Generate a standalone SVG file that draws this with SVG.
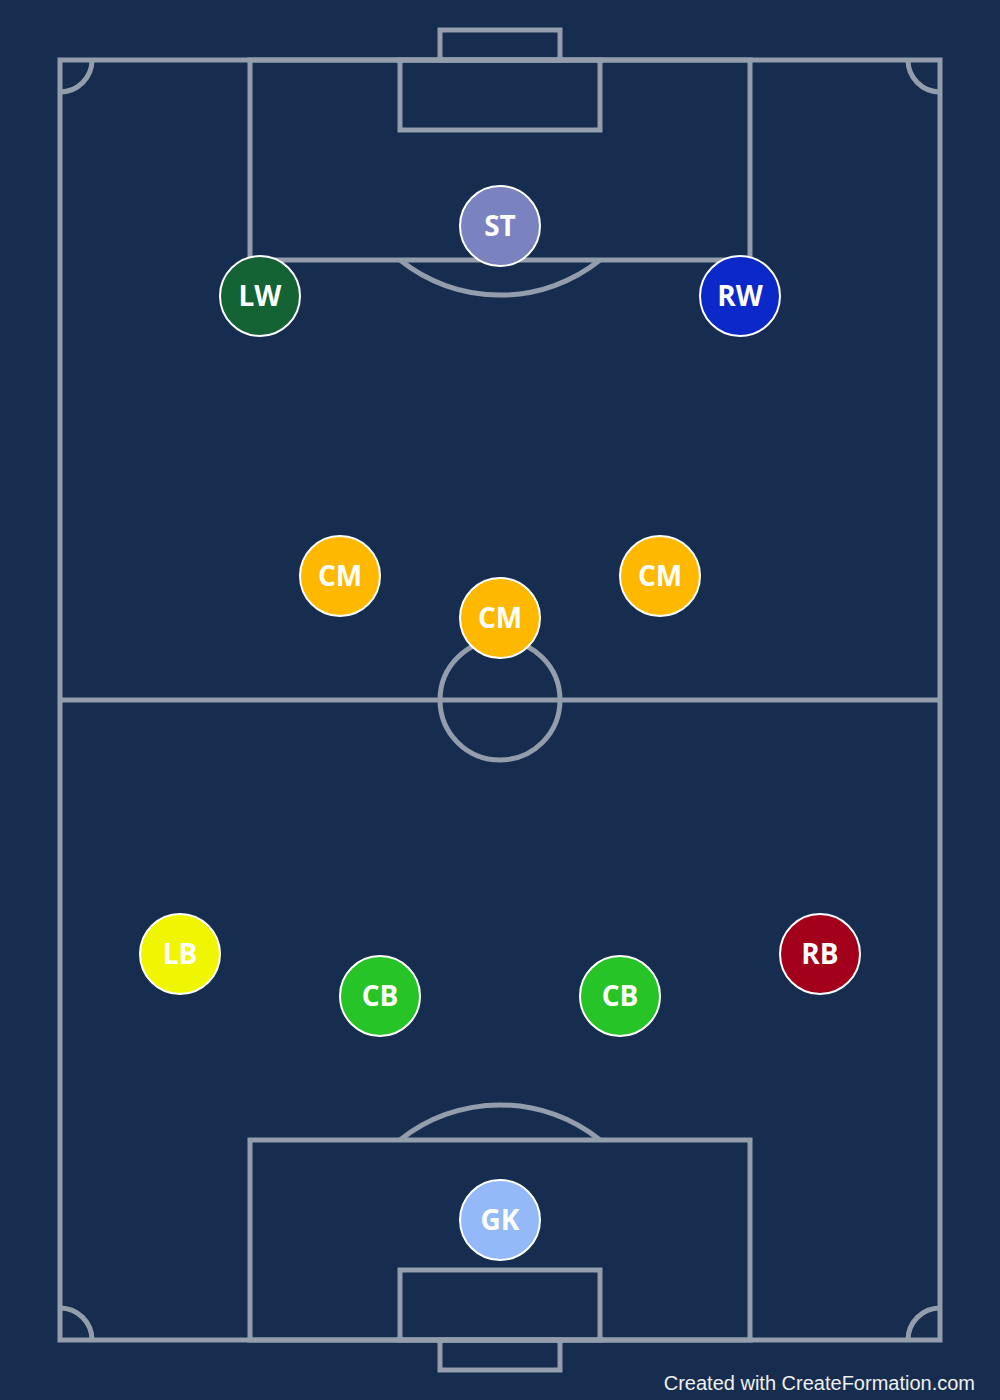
<svg xmlns="http://www.w3.org/2000/svg" width="1000" height="1400" viewBox="0 0 1000 1400">
<style>
.ln{fill:none;stroke:#939dab;stroke-width:5}
.p circle{stroke:#ffffff;stroke-width:2}
.p text{font-family:"Open Sans","Noto Sans",sans-serif;font-weight:bold;font-size:28px;fill:#ffffff;text-anchor:middle}
.ft{font-family:"Liberation Sans",Arial,sans-serif;font-size:20px;fill:#f0f0f0;text-anchor:end}
</style>
<rect x="0" y="0" width="1000" height="1400" fill="#172d4f"/>
<g id="pitch">
<rect class="ln" x="60" y="60" width="880" height="1280"/>
<line class="ln" x1="60" y1="700" x2="940" y2="700"/>
<circle class="ln" cx="500" cy="700" r="60"/>
<rect class="ln" x="440" y="30" width="120" height="30"/>
<rect class="ln" x="400" y="60" width="200" height="70"/>
<rect class="ln" x="250" y="60" width="500" height="200"/>
<path class="ln" d="M400,260 A160,160 0 0 0 600,260"/>
<rect class="ln" x="440" y="1340" width="120" height="30"/>
<rect class="ln" x="400" y="1270" width="200" height="70"/>
<rect class="ln" x="250" y="1140" width="500" height="200"/>
<path class="ln" d="M400,1140 A160,160 0 0 1 600,1140"/>
<path class="ln" d="M60,92 A32,32 0 0 0 92,60"/>
<path class="ln" d="M908,60 A32,32 0 0 0 940,92"/>
<path class="ln" d="M60,1308 A32,32 0 0 1 92,1340"/>
<path class="ln" d="M908,1340 A32,32 0 0 1 940,1308"/>
</g>
<g id="connectors"></g>
<g id="ST" class="p"><circle cx="500" cy="226" r="40" fill="#7a82c0"/><text x="500" y="236">ST</text></g>
<g id="LW" class="p"><circle cx="260" cy="296" r="40" fill="#136334"/><text x="260" y="306">LW</text></g>
<g id="RW" class="p"><circle cx="740" cy="296" r="40" fill="#0b28c8"/><text x="740" y="306">RW</text></g>
<g id="CM1" class="p"><circle cx="340" cy="576" r="40" fill="#ffb800"/><text x="340" y="586">CM</text></g>
<g id="CM2" class="p"><circle cx="660" cy="576" r="40" fill="#ffb800"/><text x="660" y="586">CM</text></g>
<g id="CM3" class="p"><circle cx="500" cy="618" r="40" fill="#ffb800"/><text x="500" y="628">CM</text></g>
<g id="LB" class="p"><circle cx="180" cy="954" r="40" fill="#f0f500"/><text x="180" y="964">LB</text></g>
<g id="CB1" class="p"><circle cx="380" cy="996" r="40" fill="#26c426"/><text x="380" y="1006">CB</text></g>
<g id="CB2" class="p"><circle cx="620" cy="996" r="40" fill="#26c426"/><text x="620" y="1006">CB</text></g>
<g id="RB" class="p"><circle cx="820" cy="954" r="40" fill="#a3001b"/><text x="820" y="964">RB</text></g>
<g id="GK" class="p"><circle cx="500" cy="1220" r="40" fill="#93b9f9"/><text x="500" y="1230">GK</text></g>
<text class="ft" x="975" y="1390">Created with CreateFormation.com</text>
</svg>
